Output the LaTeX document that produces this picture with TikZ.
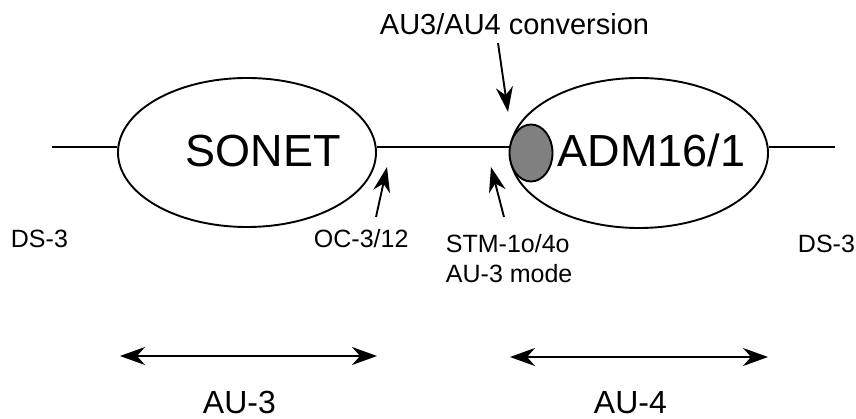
\documentclass[tikz,border=0pt]{standalone}
\usepackage{fontspec}
\setmainfont{Liberation Sans}
\usetikzlibrary{shapes.geometric,arrows.meta}
\tikzset{
    every picture/.style={x=1pt,y=-1pt,line width=1.9pt},
    netbox/.style={draw,ellipse,inner sep=0pt},
    bigtxt/.style={inner sep=0pt,anchor=base west,font=\fontsize{45}{54}\selectfont},
    smalltxt/.style={inner sep=0pt,anchor=base west,font=\fontsize{25}{30}\selectfont},
    spantxt/.style={inner sep=0pt,anchor=base west,font=\fontsize{32}{38}\selectfont},
    pointer/.style={-{Stealth[length=25pt,width=17pt,inset=8pt]}},
    span/.style={{Stealth[length=25pt,width=18pt,inset=8pt]}-{Stealth[length=25pt,width=18pt,inset=8pt]}}
}

\begin{document}
\begin{tikzpicture}
    \useasboundingbox (0,0) rectangle (856,419);

    % Network ellipses
    \node[netbox,minimum width=258pt,minimum height=149pt] (sonet) at (247,152.5) {};
    \node[netbox,minimum width=258pt,minimum height=150pt] (adm) at (639,153) {};
    \node[bigtxt] (sonettxt) at (185,167) {SONET};
    \node[bigtxt] (admtxt) at (557,167) {ADM16/1};

    % Signal line
    \coordinate (ds3L) at (52,147);
    \coordinate (ds3R) at (835,147);
    \draw (ds3L) -- (ds3L -| sonet.west);
    \draw (sonet.east |- ds3L) -- (adm.west |- ds3L);
    \draw (adm.east |- ds3L) -- (ds3R);

    % Conversion point
    \node[draw,ellipse,fill=gray,inner sep=0pt,minimum width=43pt,minimum height=57pt] (conv) at (531,153) {};

    % Labels
    \node[smalltxt] (dsleft) at (10,248) {DS-3};
    \node[smalltxt] (dsright) at (797,253) {DS-3};
    \node[smalltxt] (oc) at (313,248) {OC-3/12};
    \node[smalltxt,align=left] (stm) at (445,283) {STM-1o/4o\\AU-3 mode};
    \node[inner sep=0pt,anchor=base west,font=\fontsize{29}{35}\selectfont] (convtxt) at (379,35) {AU3/AU4 conversion};

    % Pointer arrows
    \coordinate (convtail) at (498,43);
    \coordinate (convtip) at (508,112);
    \coordinate (octail) at (376,217);
    \coordinate (octip) at (387,167);
    \coordinate (stmtail) at (504,217);
    \coordinate (stmtip) at (491,167);
    \draw[pointer] (convtail) -- (convtip);
    \draw[pointer] (octail) -- (octip);
    \draw[pointer] (stmtail) -- (stmtip);

    % AU spans
    \coordinate (au3a) at (120,356);
    \coordinate (au3b) at (377,356);
    \coordinate (au4a) at (510,357);
    \coordinate (au4b) at (768,357);
    \draw[span] (au3a) -- (au3b);
    \draw[span] (au4a) -- (au4b);
    \node[spantxt] (au3) at (202,413) {AU-3};
    \node[spantxt] (au4) at (593,413) {AU-4};
\end{tikzpicture}
\end{document}
